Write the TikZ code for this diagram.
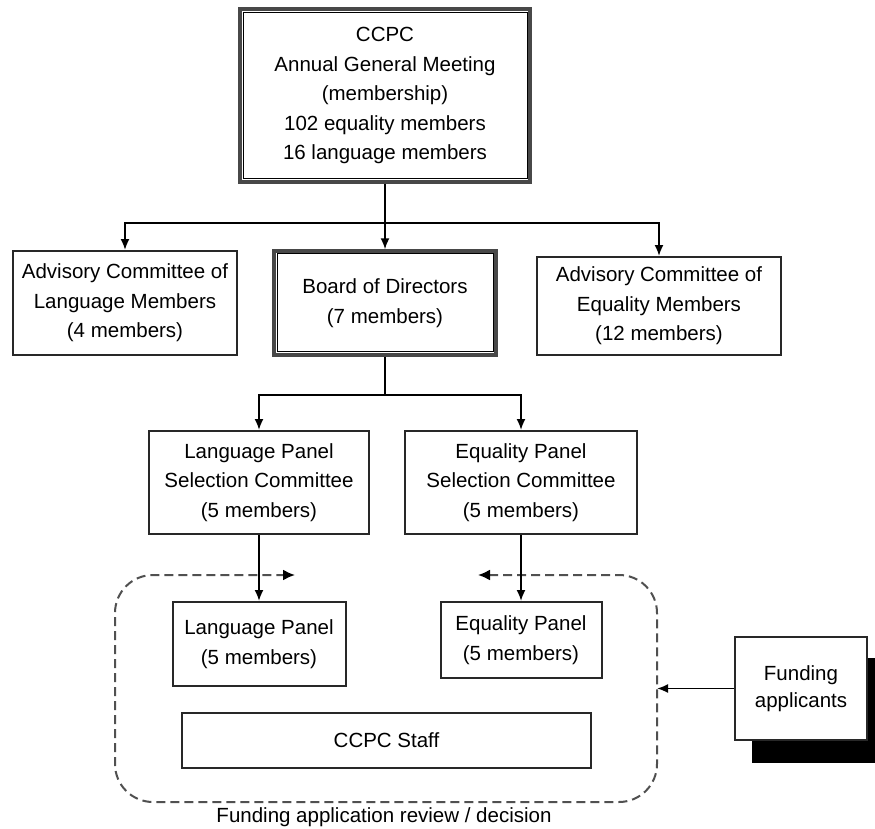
\documentclass[tikz,border=0pt]{standalone}
\usepackage{fontspec}
\setmainfont{Liberation Sans}
\usetikzlibrary{arrows.meta}
\definecolor{boxline}{HTML}{282828}
\definecolor{dashline}{HTML}{505050}
\tikzset{
  box/.style={draw=boxline, line width=2pt, fill=white, align=center, inner sep=0pt,
    font=\fontsize{20.5}{29.5}\selectfont},
  outerline/.style={draw=boxline!85, line width=3.4pt},
  innerline/.style={draw=black, line width=1.4pt},
  arr/.style={draw=black, line width=1.8pt, -{Latex[length=11pt,width=9pt]}},
  conn/.style={draw=black, line width=1.8pt},
  dashedframe/.style={draw=dashline, line width=2pt, dash pattern=on 9pt off 5pt,
    rounded corners=38pt, {Latex[length=12pt,width=11pt,black]}-{Latex[length=12pt,width=11pt,black]}},
  lbl/.style={font=\fontsize{20.5}{24}\selectfont, inner sep=0pt}
}
\begin{document}
\begin{tikzpicture}[x=1pt,y=-1pt]
\useasboundingbox (0,0) rectangle (875,829);

% top box
\node[box, outerline, minimum width=290, minimum height=173] (agm) at (385,95.5)
  {CCPC\\Annual General Meeting\\(membership)\\102 equality members\\16 language members};
\draw[innerline] ([shift={(5,5)}]agm.north west) rectangle ([shift={(-4,-5)}]agm.south east);

% middle row
\node[box, minimum width=224, minimum height=104] (acl) at (125,303)
  {Advisory Committee of\\Language Members\\(4 members)};
\node[box, outerline, minimum width=222, minimum height=104] (board) at (385,303)
  {Board of Directors\\(7 members)};
\draw[innerline] ([shift={(5,4)}]board.north west) rectangle ([shift={(-4,-5)}]board.south east);
\node[box, minimum width=244, minimum height=98] (ace) at (659,306)
  {Advisory Committee of\\Equality Members\\(12 members)};

% selection committees
\node[box, minimum width=220, minimum height=103] (lpsc) at (259,482.5)
  {Language Panel\\Selection Committee\\(5 members)};
\node[box, minimum width=232, minimum height=103] (epsc) at (521,482.5)
  {Equality Panel\\Selection Committee\\(5 members)};

% dashed frame (two arrows)
\coordinate (fl) at (295,575);
\coordinate (fr) at (478,575);
\draw[dashedframe] (fr) -- (657,575) -- (657,802) -- (115,802) -- (115,575) -- (fl);

% panels
\node[box, minimum width=173, minimum height=84] (lp) at (259,644)
  {Language Panel\\(5 members)};
\node[box, minimum width=161, minimum height=76] (ep) at (521,640)
  {Equality Panel\\(5 members)};
\node[box, minimum width=409, minimum height=55] (staff) at (386.5,740.5)
  {CCPC Staff};

% funding applicants with shadow
\fill[black] (752,658) rectangle (884,763);
\node[box, minimum width=132, minimum height=103, font=\fontsize{20.5}{27}\selectfont] (fund) at (801,688.5)
  {Funding\\applicants};
\coordinate (dr) at (657,688.5);

% label
\node[lbl] (cap) at (384,817) {Funding application review / decision};

% connectors
\coordinate (j1) at (385,223);
\coordinate (j2) at (385,395);
\draw[conn] (agm.south) -- (j1);
\draw[arr] (j1) -- (board.north);
\draw[arr] (j1) -| (acl.north);
\draw[arr] (j1) -| (ace.north);
\draw[conn] (board.south) -- (j2);
\draw[arr] (j2) -| (lpsc.north);
\draw[arr] (j2) -| (epsc.north);
\draw[arr] (lpsc.south) -- (lp.north);
\draw[arr] (epsc.south) -- (ep.north);
\draw[arr] (fund.west) -- (dr);
\end{tikzpicture}
\end{document}
